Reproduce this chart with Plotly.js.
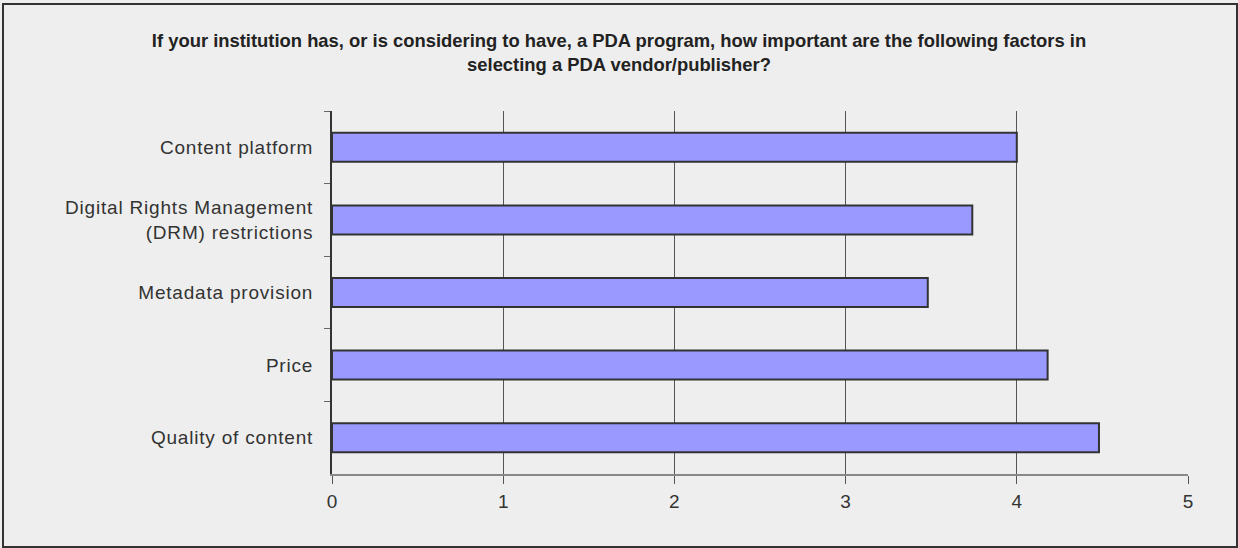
<!DOCTYPE html>
<html>
<head>
<meta charset="utf-8">
<script src="https://cdn.plot.ly/plotly-3.0.1.min.js"></script>
<style>
  html, body { margin: 0; padding: 0; background: #eeeeee; }
  #chart { width: 1238px; height: 548px; }
  #chart .ytick text { letter-spacing: 0.8px; }
  #frame { position: absolute; left: 2px; top: 3px; width: 1232px; height: 541px; border: 2px solid #333333; pointer-events: none; }
</style>
</head>
<body>
<div id="chart"></div>
<div id="frame"></div>
<script>
const categories = [
  "Content platform",
  "Digital Rights Management<br>(DRM) restrictions",
  "Metadata provision",
  "Price",
  "Quality of content"
];
const values = [4.0, 3.74, 3.48, 4.18, 4.48];
const xTicks = [0, 1, 2, 3, 4, 5];
const chartTitle = "If your institution has, or is considering to have, a PDA program, how important are the following factors in<br>selecting a PDA vendor/publisher?";

const trace = {
  type: "bar",
  orientation: "h",
  y: categories,
  x: values,
  marker: { color: "#9999ff", line: { color: "#333333", width: 2 } },
  hoverinfo: "x+y"
};

const layout = {
  width: 1238,
  height: 548,
  paper_bgcolor: "#eeeeee",
  plot_bgcolor: "#eeeeee",
  margin: { l: 332, r: 50, t: 111, b: 74 },
  showlegend: false,
  bargap: 0.6,
  font: { family: "Liberation Sans, Arial, sans-serif", color: "#333333", size: 19 },
  title: {
    text: chartTitle,
    font: { family: "Liberation Sans, Arial, sans-serif", size: 18.4, color: "#222222", weight: "bold" },
    x: 0.5, xanchor: "center",
    xref: "container",
    yref: "container", y: 1 - 47 / 548, yanchor: "middle"
  },
  xaxis: {
    range: [0, 5],
    tickvals: xTicks,
    ticktext: xTicks.map(String),
    showgrid: true,
    gridcolor: "#555555",
    gridwidth: 1,
    zeroline: false,
    showline: true,
    linecolor: "#888888",
    linewidth: 2,
    ticks: "outside",
    ticklen: 8,
    tickcolor: "#555555",
    ticklabelstandoff: 1,
    tickfont: { size: 19, color: "#333333" },
    fixedrange: true
  },
  yaxis: {
    type: "category",
    autorange: "reversed",
    showline: true,
    linecolor: "#333333",
    linewidth: 2,
    ticks: "outside",
    tickson: "boundaries",
    ticklen: 6,
    tickcolor: "#666666",
    showgrid: false,
    zeroline: false,
    ticklabelstandoff: 13,
    tickfont: { size: 19, color: "#333333" },
    fixedrange: true
  }
};

Plotly.newPlot("chart", [trace], layout, { displayModeBar: false, staticPlot: true });
</script>
</body>
</html>
